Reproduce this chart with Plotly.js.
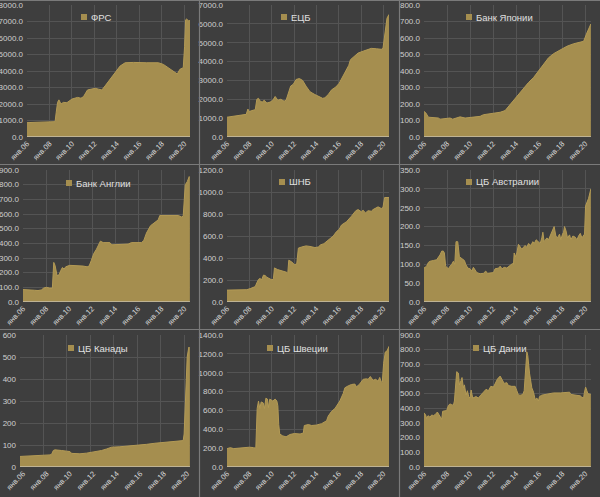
<!DOCTYPE html>
<html>
<head>
<meta charset="utf-8">
<script src="https://cdn.plot.ly/plotly-3.0.1.min.js"></script>
<style>html,body{margin:0;padding:0;background:#3e3e3e;}#chart{width:600px;height:497px;}</style>
</head>
<body>
<div id="chart"></div>
<script>
// ---- data (decimal years, values) ----
const xTickYears = [2006, 2008, 2010, 2012, 2014, 2016, 2018, 2020];
const xTickLabels = ['янв.06', 'янв.08', 'янв.10', 'янв.12', 'янв.14', 'янв.16', 'янв.18', 'янв.20'];
const seriesNames = ['ФРС', 'ЕЦБ', 'Банк Японии', 'Банк Англии', 'ШНБ', 'ЦБ Австралии', 'ЦБ Канады', 'ЦБ Швеции', 'ЦБ Дании'];

const fedYears = [2006.0, 2007.04, 2008.0, 2008.5, 2008.6, 2008.72, 2008.84, 2009.02, 2009.25, 2009.55, 2010.0, 2010.5, 2010.8, 2011.03, 2011.38, 2011.77, 2012.07, 2012.36, 2012.66, 2012.95, 2013.4, 2013.84, 2014.28, 2014.73, 2015.47, 2016.65, 2017.69, 2018.13, 2018.72, 2019.17, 2019.37, 2019.6, 2019.9, 2020.02, 2020.11, 2020.2, 2020.35, 2020.5];
const fedValues = [870, 890, 910, 930, 1500, 2100, 2250, 2000, 2100, 2080, 2300, 2400, 2350, 2450, 2850, 2900, 2950, 2900, 2850, 3100, 3500, 3900, 4300, 4500, 4520, 4500, 4500, 4400, 4100, 3900, 3820, 4100, 4200, 5500, 7100, 7150, 7050, 7050];

const ecbYears = [2006.0, 2006.59, 2007.19, 2007.72, 2007.87, 2007.99, 2008.23, 2008.53, 2008.67, 2008.82, 2008.97, 2009.15, 2009.33, 2009.57, 2009.86, 2010.1, 2010.31, 2010.55, 2010.81, 2011.11, 2011.29, 2011.5, 2011.7, 2011.94, 2012.18, 2012.48, 2012.77, 2013.07, 2013.43, 2013.87, 2014.26, 2014.56, 2014.76, 2015.06, 2015.36, 2015.74, 2016.04, 2016.34, 2016.7, 2016.9, 2017.05, 2017.35, 2017.73, 2018.18, 2018.63, 2018.92, 2019.37, 2019.81, 2019.96, 2020.11, 2020.32, 2020.5];
const ecbValues = [1050, 1100, 1130, 1200, 1480, 1350, 1400, 1450, 2000, 2050, 1900, 1850, 1950, 1800, 1850, 1950, 2150, 1950, 2000, 1900, 1950, 2300, 2700, 2800, 3050, 3100, 3000, 2700, 2400, 2250, 2150, 2050, 2080, 2250, 2500, 2650, 2850, 3200, 3550, 3800, 4100, 4250, 4450, 4550, 4650, 4700, 4680, 4650, 4700, 5300, 6300, 6500];

const bojYears = [2006.0, 2006.17, 2006.38, 2006.81, 2007.25, 2007.39, 2007.83, 2008.26, 2008.49, 2008.84, 2009.13, 2009.57, 2010.0, 2010.43, 2010.87, 2011.16, 2011.59, 2012.17, 2012.61, 2013.04, 2013.33, 2013.77, 2014.2, 2014.64, 2015.07, 2015.51, 2015.94, 2016.38, 2016.81, 2017.25, 2017.83, 2018.41, 2018.99, 2019.57, 2019.86, 2020.14, 2020.49];
const bojValues = [155, 145, 120, 118, 115, 108, 112, 115, 108, 118, 122, 115, 118, 120, 125, 135, 140, 145, 150, 160, 185, 220, 255, 295, 330, 360, 400, 445, 480, 505, 530, 550, 565, 575, 580, 630, 685];

const boeYears = [2006.0, 2006.58, 2007.01, 2007.3, 2007.59, 2007.8, 2008.03, 2008.32, 2008.55, 2008.67, 2008.78, 2008.96, 2009.13, 2009.28, 2009.42, 2009.57, 2009.71, 2010.06, 2010.64, 2011.22, 2011.57, 2011.74, 2011.94, 2012.14, 2012.38, 2012.55, 2012.72, 2012.96, 2013.54, 2013.71, 2014.41, 2015.13, 2015.42, 2016.29, 2016.49, 2016.72, 2017.07, 2017.45, 2017.74, 2017.88, 2018.46, 2019.04, 2019.48, 2019.77, 2019.91, 2020.09, 2020.26, 2020.43, 2020.49];
const boeValues = [85, 85, 80, 78, 82, 95, 100, 95, 95, 270, 250, 180, 185, 215, 235, 225, 240, 250, 250, 245, 240, 245, 285, 330, 360, 385, 415, 405, 405, 390, 390, 395, 405, 405, 420, 470, 520, 545, 560, 590, 590, 595, 590, 580, 585, 800, 820, 855, 850];

const snbYears = [2006.0, 2006.89, 2007.78, 2008.08, 2008.38, 2008.53, 2008.67, 2008.82, 2008.97, 2009.09, 2009.27, 2009.42, 2009.57, 2009.8, 2010.04, 2010.16, 2010.25, 2010.52, 2010.81, 2011.11, 2011.35, 2011.44, 2011.53, 2011.79, 2012.03, 2012.24, 2012.39, 2012.68, 2013.07, 2013.43, 2013.87, 2014.17, 2014.38, 2014.67, 2015.0, 2015.27, 2015.51, 2015.8, 2016.04, 2016.25, 2016.7, 2017.14, 2017.53, 2017.74, 2018.03, 2018.18, 2018.39, 2018.63, 2018.92, 2019.07, 2019.37, 2019.52, 2019.81, 2019.96, 2020.11, 2020.5];
const snbValues = [108, 108, 112, 122, 135, 140, 175, 205, 215, 200, 245, 240, 225, 210, 200, 215, 310, 295, 285, 280, 270, 260, 380, 365, 340, 345, 490, 500, 510, 505, 495, 500, 520, 530, 560, 580, 600, 640, 660, 700, 730, 780, 830, 840, 820, 835, 810, 830, 825, 840, 860, 865, 850, 860, 950, 950];

const rbaYears = [2006.0, 2006.23, 2006.38, 2006.52, 2006.81, 2007.1, 2007.39, 2007.54, 2007.68, 2007.77, 2007.88, 2008.12, 2008.26, 2008.41, 2008.55, 2008.67, 2008.78, 2008.93, 2009.07, 2009.33, 2009.51, 2009.62, 2009.8, 2010.0, 2010.14, 2010.29, 2010.41, 2010.58, 2010.87, 2011.16, 2011.36, 2011.51, 2012.03, 2012.17, 2012.49, 2012.61, 2012.78, 2012.96, 2013.19, 2013.48, 2013.68, 2013.77, 2013.83, 2013.94, 2014.06, 2014.2, 2014.35, 2014.49, 2014.78, 2014.93, 2015.07, 2015.28, 2015.45, 2015.57, 2015.74, 2015.94, 2016.09, 2016.23, 2016.32, 2016.43, 2016.67, 2016.81, 2017.01, 2017.19, 2017.3, 2017.45, 2017.59, 2017.77, 2017.88, 2018.03, 2018.12, 2018.2, 2018.32, 2018.46, 2018.64, 2018.75, 2018.93, 2019.13, 2019.28, 2019.42, 2019.57, 2019.71, 2019.86, 2019.94, 2020.03, 2020.14, 2020.29, 2020.49];
const rbaValues = [90, 95, 105, 108, 110, 112, 125, 135, 135, 130, 95, 88, 95, 100, 108, 100, 160, 160, 120, 115, 110, 100, 90, 88, 82, 92, 85, 78, 75, 76, 82, 76, 78, 88, 90, 95, 88, 92, 90, 97, 102, 100, 130, 120, 130, 153, 145, 140, 150, 145, 155, 150, 160, 155, 165, 160, 155, 170, 185, 160, 170, 165, 180, 195, 200, 175, 170, 180, 165, 180, 185, 200, 190, 170, 178, 165, 175, 172, 165, 175, 182, 170, 175, 180, 255, 265, 275, 300];

const bocYears = [2006.0, 2006.99, 2007.99, 2008.56, 2008.7, 2008.84, 2008.98, 2009.27, 2009.55, 2009.98, 2010.26, 2010.4, 2010.69, 2011.11, 2011.68, 2012.11, 2012.53, 2012.96, 2013.39, 2013.81, 2014.52, 2015.23, 2015.99, 2016.8, 2017.51, 2017.99, 2018.78, 2019.64, 2019.92, 2020.0, 2020.12, 2020.26, 2020.4, 2020.49];
const bocValues = [48, 50, 52, 55, 58, 75, 78, 75, 75, 72, 70, 62, 60, 60, 63, 66, 70, 75, 82, 90, 92, 95, 97, 103, 108, 110, 115, 118, 120, 150, 350, 500, 545, 540];

const rbsYears = [2006.0, 2006.3, 2006.59, 2007.01, 2007.49, 2008.02, 2008.38, 2008.58, 2008.7, 2008.82, 2008.94, 2009.06, 2009.24, 2009.36, 2009.48, 2009.62, 2009.71, 2009.83, 2010.1, 2010.31, 2010.46, 2010.55, 2010.63, 2010.72, 2010.99, 2011.29, 2011.64, 2012.03, 2012.54, 2012.83, 2012.92, 2013.28, 2013.58, 2014.02, 2014.47, 2014.76, 2014.91, 2015.06, 2015.36, 2015.66, 2015.95, 2016.1, 2016.4, 2016.55, 2016.84, 2017.14, 2017.44, 2017.59, 2017.88, 2018.18, 2018.48, 2018.63, 2018.83, 2019.07, 2019.31, 2019.52, 2019.67, 2019.81, 2019.9, 2020.02, 2020.17, 2020.32, 2020.5];
const rbsValues = [195, 205, 195, 200, 205, 210, 205, 200, 620, 700, 620, 690, 680, 620, 730, 720, 630, 720, 700, 720, 700, 650, 450, 350, 330, 320, 345, 355, 350, 360, 440, 450, 440, 445, 460, 475, 490, 540, 590, 620, 670, 700, 780, 840, 860, 875, 880, 850, 880, 930, 935, 930, 960, 920, 930, 910, 950, 900, 900, 1100, 1220, 1230, 1280];

const dnbYears = [2006.0, 2006.14, 2006.23, 2006.35, 2006.52, 2006.67, 2006.81, 2007.01, 2007.16, 2007.33, 2007.45, 2007.54, 2007.62, 2007.97, 2008.12, 2008.26, 2008.41, 2008.55, 2008.64, 2008.75, 2008.84, 2008.99, 2009.07, 2009.22, 2009.3, 2009.42, 2009.51, 2009.65, 2009.77, 2009.88, 2010.0, 2010.09, 2010.23, 2010.52, 2010.72, 2010.93, 2011.22, 2011.39, 2011.59, 2011.8, 2012.03, 2012.17, 2012.38, 2012.61, 2012.75, 2012.96, 2013.19, 2013.33, 2013.62, 2013.91, 2014.06, 2014.2, 2014.41, 2014.58, 2014.7, 2014.84, 2014.93, 2015.01, 2015.16, 2015.36, 2015.51, 2015.65, 2015.8, 2015.94, 2016.03, 2016.23, 2016.67, 2016.81, 2017.25, 2017.83, 2018.41, 2018.64, 2018.75, 2019.13, 2019.57, 2019.71, 2019.86, 2019.91, 2020.03, 2020.14, 2020.23, 2020.49];
const dnbValues = [370, 355, 330, 350, 340, 355, 350, 360, 375, 350, 330, 325, 380, 385, 420, 430, 425, 420, 450, 560, 650, 640, 560, 590, 610, 540, 560, 490, 520, 480, 470, 525, 470, 480, 470, 490, 520, 530, 520, 550, 545, 570, 600, 620, 595, 570, 575, 555, 550, 550, 520, 490, 490, 495, 520, 700, 785, 760, 640, 540, 510, 460, 470, 450, 480, 490, 495, 500, 505, 505, 505, 510, 495, 490, 485, 475, 470, 500, 545, 520, 500, 495];

// ---- panel setup ----
const panels = [
  {x: fedYears, y: fedValues, ymax: 8000, dtick: 1000, fmt: '.1f'},
  {x: ecbYears, y: ecbValues, ymax: 7000, dtick: 1000, fmt: '.1f'},
  {x: bojYears, y: bojValues, ymax: 800, dtick: 100, fmt: '.1f'},
  {x: boeYears, y: boeValues, ymax: 900, dtick: 100, fmt: '.1f'},
  {x: snbYears, y: snbValues, ymax: 1200, dtick: 200, fmt: '.1f'},
  {x: rbaYears, y: rbaValues, ymax: 350, dtick: 50, fmt: '.1f'},
  {x: bocYears, y: bocValues, ymax: 600, dtick: 100, fmt: 'd'},
  {x: rbsYears, y: rbsValues, ymax: 1400, dtick: 200, fmt: '.1f'},
  {x: dnbYears, y: dnbValues, ymax: 900, dtick: 100, fmt: '.1f'}
];

const W = 600, H = 497;
const colLeft = [[27, 227, 424], [23, 227, 424], [20, 227, 424]];
const colRight = [190, 389, 591];
const rowTop = [5, 170, 335];
const rowBottom = [137, 302, 467];
const legendPos = [[81, 17], [281, 17], [466, 17], [66, 183], [279, 182], [466, 182], [68, 348], [267, 348], [473, 348]];
const labelShift = [0, 0, 0, 0, 0, 0, 3, 0, 0];

const FILL = '#a58e4f';
const LINE = '#b39a55';
const BG = '#3e3e3e';
const GRID = '#545454';
const TICKC = '#cfcfcf';
const FONT = 'Liberation Sans, Arial, sans-serif';

const traces = [];
const layout = {
  width: W, height: H,
  margin: {l: 0, r: 0, t: 0, b: 0},
  paper_bgcolor: BG, plot_bgcolor: BG,
  showlegend: false,
  font: {family: FONT, color: TICKC},
  shapes: [], annotations: []
};

panels.forEach((p, i) => {
  const r = Math.floor(i / 3), c = i % 3;
  const sfx = i === 0 ? '' : String(i + 1);
  traces.push({
    type: 'scatter', mode: 'lines', x: p.x, y: p.y,
    fill: 'tozeroy', fillcolor: FILL,
    line: {color: LINE, width: 1},
    xaxis: 'x' + sfx, yaxis: 'y' + sfx,
    name: seriesNames[i], hoverinfo: 'skip'
  });
  layout['xaxis' + sfx] = {
    domain: [colLeft[r][c] / W, colRight[c] / W],
    anchor: 'y' + sfx,
    range: [2006, 2020.5],
    tickmode: 'array', tickvals: xTickYears, ticktext: xTickLabels,
    tickangle: -45,
    tickfont: {size: 7.5, color: '#dadada', family: FONT},
    showgrid: true, gridcolor: GRID, gridwidth: 1,
    zeroline: false, showline: false, ticks: '', fixedrange: true,
    ticklabelshift: labelShift[i]
  };
  layout['yaxis' + sfx] = {
    domain: [1 - rowBottom[r] / H, 1 - rowTop[r] / H],
    anchor: 'x' + sfx,
    range: [0, p.ymax], dtick: p.dtick, tick0: 0,
    tickformat: p.fmt,
    tickfont: {size: 8, color: TICKC, family: FONT},
    showgrid: true, gridcolor: GRID, gridwidth: 1,
    zeroline: false, showline: false, ticks: '', ticklabelstandoff: 3, fixedrange: true
  };
  // baseline at zero
  layout.shapes.push({
    type: 'line', xref: 'x' + sfx + ' domain', yref: 'y' + sfx,
    x0: 0, x1: 1, y0: 0, y1: 0, layer: 'above',
    line: {color: '#d8d8d8', width: 1}
  });
  // legend key square + label
  const [lx, ly] = legendPos[i];
  layout.shapes.push({
    type: 'rect', xref: 'paper', yref: 'paper',
    x0: lx / W, x1: (lx + 6) / W, y0: 1 - (ly + 3) / H, y1: 1 - (ly - 3) / H,
    fillcolor: FILL, line: {width: 0}
  });
  layout.annotations.push({
    xref: 'paper', yref: 'paper', x: (lx + 8) / W, y: 1 - ly / H,
    xanchor: 'left', yanchor: 'middle', showarrow: false,
    text: seriesNames[i], font: {size: 9.5, color: '#e0e0e0', family: FONT}
  });
});

// panel separators
const SEP = '#7a7a7a';
[[199.5, 0, 199.5, H], [399.5, 0, 399.5, H], [0, 164.5, W, 164.5], [0, 329.5, W, 329.5], [0, 0.5, W, 0.5]].forEach(s => {
  layout.shapes.push({
    type: 'line', xref: 'paper', yref: 'paper',
    x0: s[0] / W, x1: s[2] / W, y0: 1 - s[1] / H, y1: 1 - s[3] / H,
    line: {color: SEP, width: 1.2}
  });
});

Plotly.newPlot('chart', traces, layout, {displayModeBar: false, staticPlot: true});
</script>
</body>
</html>
